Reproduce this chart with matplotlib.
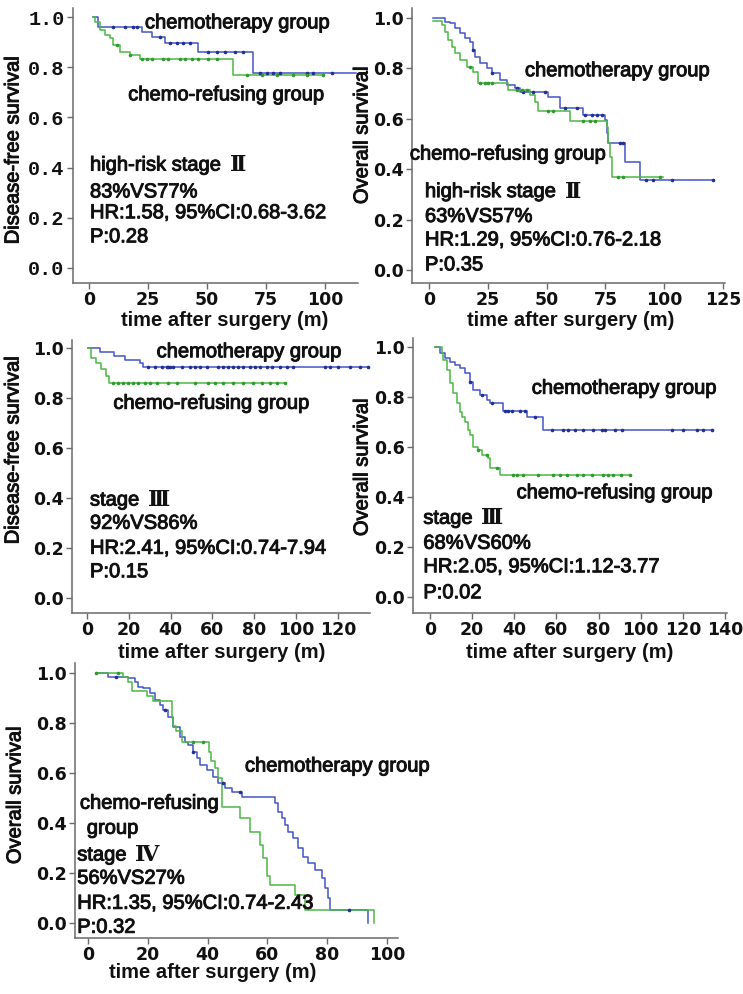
import numpy as np
import matplotlib
matplotlib.use('Agg')
import matplotlib.pyplot as plt
import matplotlib.patheffects as pe


## Survival data (event times [m], survival after event) ##
# panel 1: disease-free survival, high-risk stage II
p1_chemo_t = [1.7, 3.9, 22.3, 26.6, 32.2, 46.3, 69.6]
p1_chemo_s = [1.0, 0.96, 0.942, 0.921, 0.895, 0.862, 0.776]
p1_chemo_end = 113
p1_chemo_cens = [10.3, 15.3, 18.8, 20.2, 30, 34.3, 37.1, 40, 42.8, 50.6, 54.1,
                 57.6, 61.9, 65.4, 72.4, 75.3, 78, 80.9, 92.2, 95, 102.8]
p1_refuse_t = [1.7, 2.5, 4.7, 6.8, 8.9, 10.3, 13.1, 17.4, 21.6, 61.2]
p1_refuse_s = [1.0, 0.98, 0.95, 0.93, 0.915, 0.89, 0.862, 0.849, 0.831, 0.769]
p1_refuse_end = 99.3
p1_refuse_cens = [11.7, 17.4, 22.3, 24.4, 26.6, 31.5, 33.6, 38.5, 40.7, 43.5,
                  46.3, 50.6, 54.1, 66.8, 73.2, 79.5, 86.6, 92.2, 99.3]

# panel 2: overall survival, high-risk stage II
p2_chemo_t = [1.8, 6.8, 8.9, 11.1, 13.2, 15.3, 17.4, 18.8, 19.6, 21.7, 24.5,
              26.6, 30.2, 33.0, 36.6, 38.7, 50.7, 55.7, 65.6, 74.8, 75.5, 76.2,
              83.3, 89.7]
p2_chemo_s = [1.0, 0.985, 0.979, 0.959, 0.94, 0.919, 0.906, 0.873, 0.847, 0.82,
              0.80, 0.78, 0.754, 0.734, 0.721, 0.708, 0.688, 0.642, 0.615,
              0.595, 0.542, 0.503, 0.43, 0.357]
p2_chemo_end = 121
p2_chemo_cens = [18.8, 26.6, 37.3, 40.1, 44.4, 49.3, 57.8, 62.8, 66.3, 69.2,
                 71.3, 73.4, 81.2, 82.6, 92.1, 95.4, 103.2, 120.9]
p2_refuse_t = [1.8, 5.4, 6.8, 8.2, 9.6, 11.1, 13.2, 16.0, 18.8, 21.0, 33.7,
               42.9, 45.0, 46.5, 59.9, 75.5, 76.2, 76.9, 77.6]
p2_refuse_s = [0.99, 0.972, 0.946, 0.913, 0.886, 0.86, 0.833, 0.807, 0.787,
               0.742, 0.714, 0.694, 0.668, 0.632, 0.59, 0.569, 0.503, 0.45,
               0.37]
p2_refuse_end = 99.6
p2_refuse_cens = [17.4, 21.7, 23.8, 25.2, 26.6, 37.3, 39.4, 41.5, 50.7, 52.9,
                  65.6, 68.5, 70.6, 80.5, 82.6, 98.2]

# panel 3: disease-free survival, stage III
p3_chemo_t = [0.6, 6.4, 12.7, 18.3, 25.4, 27.0]
p3_chemo_s = [1.0, 0.985, 0.97, 0.953, 0.94, 0.924]
p3_chemo_end = 135
p3_chemo_cens = [29.3, 32.5, 35.7, 38.1, 38.9, 39.7, 41.3, 45.3, 49.3, 51.7,
                 54.1, 57.3, 62.8, 65.2, 67.6, 70.0, 72.4, 74.8, 78.0, 80.4,
                 82.8, 86.0, 88.4, 92.4, 95.5, 98.7, 113.9, 116.3, 120.3,
                 125.9, 130.7, 134.6]
p3_refuse_t = [0.6, 2.0, 4.5, 6.5, 9.0, 10.5]
p3_refuse_s = [1.0, 0.96, 0.94, 0.915, 0.89, 0.86]
p3_refuse_end = 95
p3_refuse_cens = [12.6, 15.0, 17.4, 19.8, 22.2, 24.6, 27.8, 30.1, 33.3, 38.9,
                  42.9, 51.7, 58.1, 61.2, 65.2, 70.0, 74.8, 79.6, 83.6, 87.6,
                  90.8, 94.7]

# panel 4: overall survival, stage III
p4_chemo_t = [2.4, 4.7, 7.1, 9.5, 11.8, 14.2, 16.6, 19.0, 20.6, 23.7, 26.9,
              28.5, 34.4, 45.9, 53.8]
p4_chemo_s = [1.0, 0.975, 0.955, 0.941, 0.928, 0.915, 0.895, 0.861, 0.828,
              0.808, 0.788, 0.775, 0.745, 0.72, 0.668]
p4_chemo_end = 133.7
p4_chemo_cens = [19.0, 24.5, 29.3, 35.6, 37.2, 38.8, 42.7, 45.1, 49.9, 57.7,
                 63.3, 65.6, 68.8, 72.8, 77.5, 81.5, 83.1, 87.8, 91.0, 114.7,
                 120.2, 126.6, 129.7, 133.7]
p4_refuse_t = [2.4, 5.5, 6.3, 7.9, 9.5, 11.1, 12.7, 14.2, 15.4, 16.6, 17.8,
               19.0, 20.6, 23.0, 24.5, 27.7, 28.5, 33.2]
p4_refuse_s = [1.0, 0.975, 0.948, 0.908, 0.855, 0.815, 0.775, 0.741, 0.72,
               0.70, 0.67, 0.648, 0.60, 0.588, 0.568, 0.555, 0.515, 0.488]
p4_refuse_end = 94.9
p4_refuse_cens = [23.0, 26.9, 31.6, 39.6, 41.1, 44.3, 51.4, 58.5, 61.7, 64.9,
                  69.6, 72.8, 76.7, 82.3, 84.7, 87.0, 90.9, 94.9]

# panel 5: overall survival, stage IV
p5_chemo_t = [3.5, 6.8, 13.5, 15.7, 16.8, 18.5, 20.7, 22.4, 24.1, 25.2, 26.9,
              28.6, 30.8, 32.4, 33.6, 35.2, 36.3, 37.5, 39.7, 41.9, 43.6, 45.8,
              48.1, 51.4, 62.5, 63.7, 64.8, 65.9, 67.0, 68.7, 70.3, 72.0, 73.7,
              75.9, 78.2, 79.3, 80.4, 81.0, 93.8]
p5_chemo_s = [1.0, 0.985, 0.979, 0.965, 0.945, 0.939, 0.919, 0.892, 0.872,
              0.852, 0.825, 0.785, 0.745, 0.725, 0.712, 0.685, 0.659, 0.632,
              0.612, 0.585, 0.559, 0.539, 0.525, 0.505, 0.479, 0.445, 0.419,
              0.392, 0.365, 0.339, 0.299, 0.265, 0.239, 0.212, 0.179, 0.139,
              0.099, 0.052, 0.0]
p5_chemo_end = 93.8
p5_chemo_cens = [9.5, 25.7, 35.2, 45.0, 51.0, 87.2]
p5_refuse_t = [2.8, 11.8, 13.5, 14.6, 19.6, 21.8, 28.0, 28.6, 29.5, 31.3, 40.4,
               41.2, 42.4, 43.5, 44.7, 50.8, 54.2, 57.5, 58.5, 59.8, 60.9, 69.2,
               72.6, 95.8]
p5_refuse_s = [1.0, 0.985, 0.965, 0.93, 0.91, 0.89, 0.82, 0.79, 0.77, 0.725,
               0.685, 0.65, 0.62, 0.58, 0.465, 0.419, 0.365, 0.312, 0.259,
               0.19, 0.152, 0.112, 0.052, 0.0]
p5_refuse_end = 95.8
p5_refuse_cens = [2.8, 10.0, 35.2, 38.5]

## Texts ##
stat_lines = {
    'p1': ['high-risk stage', '83%VS77%', 'HR:1.58, 95%CI:0.68-3.62', 'P:0.28'],
    'p2': ['high-risk stage', '63%VS57%', 'HR:1.29, 95%CI:0.76-2.18', 'P:0.35'],
    'p3': ['stage', '92%VS86%', 'HR:2.41, 95%CI:0.74-7.94', 'P:0.15'],
    'p4': ['stage', '68%VS60%', 'HR:2.05, 95%CI:1.12-3.77', 'P:0.02'],
    'p5': ['stage', '56%VS27%', 'HR:1.35, 95%CI:0.74-2.43', 'P:0.32'],
}
numerals = {'p1': 'Ⅱ', 'p2': 'Ⅱ', 'p3': 'Ⅲ', 'p4': 'Ⅲ', 'p5': 'Ⅳ'}

W, H = 743, 994
BLUE = '#4256c6'
BLUE_DOT = '#1f2f96'
GREEN = '#4cb845'
GREEN_DOT = '#2f9a2f'
SANS = 'Liberation Sans'
thick = [pe.withStroke(linewidth=0.7, foreground='#111111')]

fig = plt.figure(figsize=[W / 100, H / 100], dpi=100)


def make_ax(left, top, right, bottom, xlim, ylim, xticks):
    ax = fig.add_axes([left / W, 1 - bottom / H,
                       (right - left) / W, (bottom - top) / H])
    ax.set_xlim(*xlim)
    ax.set_ylim(*ylim)
    ax.set_xticks(xticks)
    ax.set_yticks([0, 0.2, 0.4, 0.6, 0.8, 1.0])
    ax.set_yticklabels(['0.0', '0.2', '0.4', '0.6', '0.8', '1.0'])
    for side in ['top', 'right']:
        ax.spines[side].set_visible(False)
    for side in ['left', 'bottom']:
        ax.spines[side].set_color('#6a6a6a')
        ax.spines[side].set_linewidth(1.1)
    ax.tick_params(axis='both', direction='out', length=4, width=1,
                   color='#6a6a6a', labelsize=12.5, pad=2)
    for lab in ax.get_xticklabels() + ax.get_yticklabels():
        lab.set_fontfamily('DejaVu Sans')
        lab.set_fontweight('bold')
        lab.set_color('#111111')
    return ax


def km(ax, times, surv, t_end, cens, color, dot):
    t = list(times) + [t_end]
    s = list(surv) + [surv[-1]]
    ax.step(t, s, where='post', color=color, lw=1.1, zorder=3)
    cens = np.array(cens)
    idx = np.searchsorted(np.array(times), cens, side='right') - 1
    ax.plot(cens, np.array(surv)[idx], 'o', color=dot, ms=2.6, mew=0,
            zorder=4)


def label(ax, x, y, s, size=14.5):
    ax.text(x, y, s, fontsize=size, family=SANS, va='center', ha='left',
            color='#111111', path_effects=thick, clip_on=False, zorder=5)


def stats(ax, key, x, ys):
    lines = stat_lines[key]
    t = ax.text(x, ys[0], lines[0], fontsize=14.5, family=SANS,
                va='center', ha='left', color='#111111', path_effects=thick,
                clip_on=False, zorder=5)
    ax.annotate(numerals[key], xy=(1, 0.5), xycoords=t, xytext=(6, 0),
                textcoords='offset points', va='center', ha='left',
                fontsize=16, family='DejaVu Serif', fontweight='bold',
                color='#111111')
    for line, y in zip(lines[1:], ys[1:]):
        label(ax, x, y, line)


def fig_text(x, y, s, rot=0, bold=False):
    fig.text(x / W, 1 - y / H, s, fontsize=14.5, family=SANS,
             fontweight='bold' if bold else 'normal', rotation=rot,
             ha='center', va='center', color='#111111',
             path_effects=None if bold else thick)


## Panel 1 ##
ax1 = make_ax(73, 8, 358, 283, (-6.8, 114), (-0.06, 1.036),
              [0, 25, 50, 75, 100])
for lab in ax1.get_yticklabels():
    lab.set_fontfamily('Liberation Mono')
    lab.set_fontsize(14.5)
km(ax1, p1_chemo_t, p1_chemo_s, p1_chemo_end, p1_chemo_cens, BLUE, BLUE_DOT)
km(ax1, p1_refuse_t, p1_refuse_s, p1_refuse_end, p1_refuse_cens,
   GREEN, GREEN_DOT)
label(ax1, 23.7, 0.977, 'chemotherapy group')
label(ax1, 16.6, 0.69, 'chemo-refusing group')
stats(ax1, 'p1', 0.4, [0.41, 0.303, 0.22, 0.124])
fig_text(13, 150, 'Disease-free survival', rot=90)
fig_text(225, 320, 'time after surgery (m)', bold=True)

## Panel 2 ##
ax2 = make_ax(412, 8, 725, 283, (-7.2, 125.8), (-0.052, 1.04),
              [0, 25, 50, 75, 100, 125])
km(ax2, p2_chemo_t, p2_chemo_s, p2_chemo_end, p2_chemo_cens, BLUE, BLUE_DOT)
km(ax2, p2_refuse_t, p2_refuse_s, p2_refuse_end, p2_refuse_cens,
   GREEN, GREEN_DOT)
label(ax2, 40.8, 0.791, 'chemotherapy group')
label(ax2, -8.1, 0.46, 'chemo-refusing group')
stats(ax2, 'p2', -1.7, [0.311, 0.212, 0.119, 0.02])
fig_text(362, 135, 'Overall survival', rot=90)
fig_text(571, 320, 'time after surgery (m)', bold=True)

## Panel 3 ##
ax3 = make_ax(72, 340, 370, 613, (-7.2, 135.4), (-0.06, 1.032),
              [0, 20, 40, 60, 80, 100, 120])
km(ax3, p3_chemo_t, p3_chemo_s, p3_chemo_end, p3_chemo_cens, BLUE, BLUE_DOT)
km(ax3, p3_refuse_t, p3_refuse_s, p3_refuse_end, p3_refuse_cens,
   GREEN, GREEN_DOT)
label(ax3, 33.3, 0.985, 'chemotherapy group')
label(ax3, 12.6, 0.779, 'chemo-refusing group')
stats(ax3, 'p3', 1.4, [0.392, 0.299, 0.199, 0.105])
fig_text(13, 450, 'Disease-free survival', rot=90)
fig_text(222, 652, 'time after surgery (m)', bold=True)

## Panel 4 ##
ax4 = make_ax(413, 338, 727, 613, (-8.1, 141), (-0.064, 1.036),
              [0, 20, 40, 60, 80, 100, 120, 140])
km(ax4, p4_chemo_t, p4_chemo_s, p4_chemo_end, p4_chemo_cens, BLUE, BLUE_DOT)
km(ax4, p4_refuse_t, p4_refuse_s, p4_refuse_end, p4_refuse_cens,
   GREEN, GREEN_DOT)
label(ax4, 48.3, 0.835, 'chemotherapy group')
label(ax4, 41.1, 0.417, 'chemo-refusing group')
stats(ax4, 'p4', -3.2, [0.315, 0.215, 0.121, 0.017])
fig_text(362, 467, 'Overall survival', rot=90)
fig_text(570, 652, 'time after surgery (m)', bold=True)

## Panel 5 ##
ax5 = make_ax(75, 663, 398, 938, (-4.35, 103.7), (-0.06, 1.04),
              [0, 20, 40, 60, 80, 100])
km(ax5, p5_chemo_t, p5_chemo_s, p5_chemo_end, p5_chemo_cens, BLUE, BLUE_DOT)
km(ax5, p5_refuse_t, p5_refuse_s, p5_refuse_end, p5_refuse_cens,
   GREEN, GREEN_DOT)
label(ax5, 52.5, 0.628, 'chemotherapy group')
label(ax5, -2.7, 0.479, 'chemo-refusing')
label(ax5, -0.4, 0.379, 'group')
stats(ax5, 'p5', -3.6, [0.272, 0.179, 0.079, -0.017])
fig_text(15, 795, 'Overall survival', rot=90)
fig_text(213, 972, 'time after surgery (m)', bold=True)

fig.savefig('out.png', dpi=100)
